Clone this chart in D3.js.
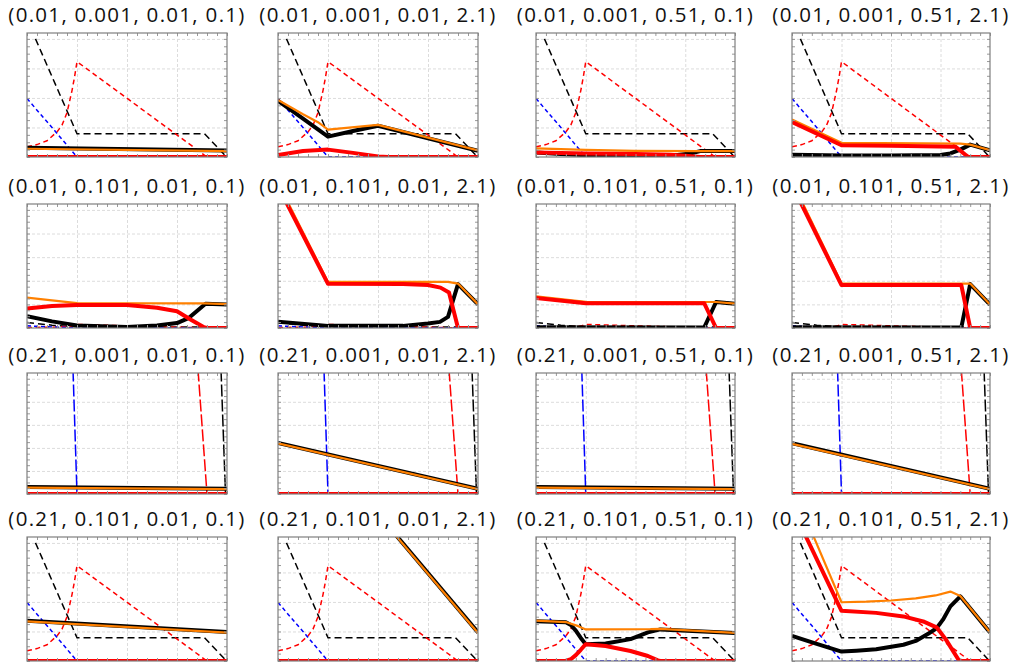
<!DOCTYPE html>
<html><head><meta charset="utf-8">
<script src="https://cdn.jsdelivr.net/npm/d3@7"></script>
<style>body{margin:0;background:#fff}svg{display:block}</style>
</head><body><svg id="c" width="1023" height="669"></svg>
<script>
const titles = [
 "(0.01, 0.001, 0.01, 0.1)","(0.01, 0.001, 0.01, 2.1)","(0.01, 0.001, 0.51, 0.1)","(0.01, 0.001, 0.51, 2.1)",
 "(0.01, 0.101, 0.01, 0.1)","(0.01, 0.101, 0.01, 2.1)","(0.01, 0.101, 0.51, 0.1)","(0.01, 0.101, 0.51, 2.1)",
 "(0.21, 0.001, 0.01, 0.1)","(0.21, 0.001, 0.01, 2.1)","(0.21, 0.001, 0.51, 0.1)","(0.21, 0.001, 0.51, 2.1)",
 "(0.21, 0.101, 0.01, 0.1)","(0.21, 0.101, 0.01, 2.1)","(0.21, 0.101, 0.51, 0.1)","(0.21, 0.101, 0.51, 2.1)"];
const xTicks = [1, 2, 3];
const yTicksWide = [1, 2, 3, 4];
const yTicksTight = [1, 2, 3, 4, 5];
const xMinor = d3.range(0, 4.001, 0.2);
const yMinorWide = d3.range(0, 4.2, 0.25);
const yMinorTight = d3.range(0, 5.25, 0.25);

// dashed reference curves
const dashA_black = [[0.17,4.0],[1.0,0.79],[3.55,0.79],[3.98,0.02]];
const dashA_red = [[0,0.35],[0.2,0.42],[0.4,0.55],[0.6,0.85],[0.7,1.08],[0.8,1.5],[0.9,2.25],[0.95,2.7],[1.0,3.23],[3.6,0],[4,0]];
const dashA_blue = [[0,1.98],[0.5,1.0],[1.0,0],[4,0]];
const dashB_black = [[0,0.23],[0.5,0.12],[1,0.05],[3.55,0.04],[4,0]];
const dashB_red = [[0,0.02],[0.6,0.04],[0.9,0.08],[1,0.15],[3.6,0],[4,0]];
const dashB_blue = [[0,0.09],[1,0],[4,0]];
const dashC_black = [[3.88,5.4],[3.97,0],[4,0]];
const dashC_red = [[3.42,5.4],[3.6,0],[4,0]];
const dashC_blue = [[0.92,5.4],[1.0,0],[4,0]];

// solid curves: thick black, orange, thick red
const blk11 = [[0,0.31],[4,0.22]], org11 = [[0,0.28],[4,0.2]], red11 = [[0,0],[4,0]];
const blk12 = [[0,1.9],[0.5,1.3],[1,0.69],[1.5,0.88],[2,1.06],[4,0.21]];
const org12 = [[0,1.93],[0.5,1.45],[0.8,1.18],[1,0.93],[2,1.09],[4,0.22]];
const red12 = [[0,0.07],[0.5,0.2],[1,0.25],[1.5,0.14],[2,0.02],[2.2,0],[4,0]];
const blk13 = [[0,0.15],[0.5,0.1],[1,0.06],[2,0.04],[2.8,0.06],[3.1,0.12],[3.3,0.2],[4,0.2]];
const org13 = [[0,0.29],[1,0.24],[2,0.21],[3.3,0.2],[4,0.2]];
const red13 = [[0,0.15],[1,0.12],[2,0.1],[2.7,0.08],[3.0,0.04],[3.3,0],[4,0]];
const blk14 = [[0,0.08],[1,0.05],[2,0.05],[3.0,0.07],[3.2,0.12],[3.4,0.25],[3.6,0.42],[4,0.23]];
const org14 = [[0,1.27],[1,0.48],[3.4,0.45],[3.6,0.42],[4,0.23]];
const red14 = [[0,1.18],[1,0.4],[2,0.38],[3.3,0.35],[3.56,0],[4,0]];

const blk21 = [[0,0.5],[0.5,0.28],[1,0.11],[2,0.04],[2.6,0.11],[3.0,0.21],[3.24,0.43],[3.57,1.03],[4,1.0]];
const org21 = [[0,1.29],[1,1.05],[3.57,1.04],[4,1.01]];
const red21 = [[0,0.83],[0.5,0.93],[1,0.97],[2,0.97],[2.6,0.86],[3.0,0.71],[3.27,0.36],[3.54,0.03],[3.6,0],[4,0]];
const blk22 = [[0,0.26],[1,0.09],[2.5,0.09],[3.0,0.19],[3.24,0.26],[3.4,0.47],[3.6,1.86],[4,1.0]];
const org22 = [[0,6.15],[1,1.95],[3.4,1.95],[3.6,1.88],[4,1.0]];
const red22 = [[0,6.0],[1,1.87],[2.5,1.86],[3.0,1.82],[3.25,1.71],[3.42,1.5],[3.6,0],[4,0]];
const blk23 = [[0,0.03],[3.38,0.02],[3.62,1.1],[4,1.03]];
const org23 = [[0,1.34],[1,1.11],[3.62,1.1],[4,1.03]];
const red23 = [[0,1.27],[1,1.05],[3.38,1.05],[3.62,0],[4,0]];
const blk24 = [[0,0.03],[3.42,0.02],[3.6,1.86],[4,0.99]];
const org24 = [[0,6.22],[1,1.89],[3.6,1.88],[4,0.99]];
const red24 = [[0,6.05],[1,1.82],[3.42,1.82],[3.6,0],[4,0]];

const blk31 = [[0,0.3],[4,0.23]], org31 = [[0,0.28],[4,0.21]], red31 = [[0,0],[4,0]];
const blk32 = [[0,2.22],[4,0.23]], org32 = [[0,2.2],[4,0.21]], red32 = [[0,0],[4,0]];
const blk33 = [[0,0.3],[4,0.23]], org33 = [[0,0.28],[4,0.21]], red33 = [[0,0],[4,0]];
const blk34 = [[0,2.2],[4,0.23]], org34 = [[0,2.18],[4,0.21]], red34 = [[0,0],[4,0]];

const blk41 = [[0,1.36],[4,0.98]], org41 = [[0,1.34],[4,0.96]], red41 = [[0,0],[4,0]];
const blk42 = [[0,9.0],[4,0.97]], org42 = [[0,8.98],[4,0.95]], red42 = [[0,0],[4,0]];
const blk43 = [[0,1.35],[0.6,1.31],[0.7,1.22],[0.8,1.03],[0.9,0.78],[1.0,0.57],[1.4,0.59],[1.9,0.74],[2.25,0.97],[2.5,1.07],[4,0.95]];
const org43 = [[0,1.37],[0.6,1.32],[0.85,1.18],[1.0,1.07],[2.3,1.08],[2.5,1.09],[4,0.95]];
const red43 = [[0,0],[0.6,0],[0.7,0.06],[0.8,0.2],[0.9,0.38],[1.0,0.57],[1.4,0.51],[1.9,0.34],[2.25,0.17],[2.45,0.02],[2.5,0],[4,0]];
const blk44 = [[0,0.85],[0.5,0.58],[1,0.32],[1.3,0.35],[1.7,0.4],[2.25,0.55],[2.5,0.68],[2.75,0.92],[2.92,1.11],[3.05,1.4],[3.2,1.85],[3.4,2.19],[4,0.97]];
const org44 = [[0,5.94],[1,1.99],[1.5,2.01],[2,2.05],[2.5,2.12],[2.9,2.22],[3.2,2.35],[3.4,2.2],[4,0.97]];
const red44 = [[0,5.2],[1,1.7],[1.7,1.63],[2.25,1.51],[2.65,1.34],[2.92,1.14],[3.1,0.75],[3.38,0],[4,0]];

const solids = [
 [blk11,org11,red11],[blk12,org12,red12],[blk13,org13,red13],[blk14,org14,red14],
 [blk21,org21,red21],[blk22,org22,red22],[blk23,org23,red23],[blk24,org24,red24],
 [blk31,org31,red31],[blk32,org32,red32],[blk33,org33,red33],[blk34,org34,red34],
 [blk41,org41,red41],[blk42,org42,red42],[blk43,org43,red43],[blk44,org44,red44]];
const dashedByRow = [
 [dashA_black,dashA_red,dashA_blue],
 [dashB_black,dashB_red,dashB_blue],
 [dashC_black,dashC_red,dashC_blue],
 [dashA_black,dashA_red,dashA_blue]];

// layout
const colLeft = [27, 278, 536, 792];
const colWidth = [200, 200, 199, 198];
const rowTop = [33, 204, 373, 537];
const rowHeight = [124, 124, 121, 124];
const rowYMax = [4.2, 5.25, 5.25, 4.2];
const rowYTicks = [yTicksWide, yTicksTight, yTicksTight, yTicksWide];
const rowYMinor = [yMinorWide, yMinorTight, yMinorTight, yMinorWide];

const svg = d3.select("#c");
const dashColors = ["#000000", "#ff0000", "#0000ff"];
const dashPatterns = ["7,4", "5,3.5", "4,3"];

titles.forEach((t, i) => {
  const r = Math.floor(i / 4), c = i % 4;
  const w = colWidth[c], h = rowHeight[r];
  const x = d3.scaleLinear().domain([0, 4]).range([0, w]);
  const y = d3.scaleLinear().domain([0, rowYMax[r]]).range([h, 0]);
  const g = svg.append("g").attr("transform", `translate(${colLeft[c]},${rowTop[r]})`);

  svg.append("text")
    .attr("x", colLeft[c] + w / 2).attr("y", rowTop[r] - 11)
    .attr("text-anchor", "middle")
    .style("font-family", "'Open Sans', sans-serif")
    .style("font-size", "20.5px").style("letter-spacing", "1.3px")
    .attr("fill", "#111").text(t);

  const clipId = "clip" + i;
  g.append("clipPath").attr("id", clipId).append("rect").attr("width", w).attr("height", h);

  g.append("rect").attr("width", w).attr("height", h).attr("fill", "#fff");

  // grid
  const gx = g.append("g").attr("transform", `translate(0,${h})`)
    .call(d3.axisBottom(x).tickValues(xTicks).tickSize(-h).tickFormat(""));
  const gy = g.append("g")
    .call(d3.axisLeft(y).tickValues(rowYTicks[r]).tickSize(-w).tickFormat(""));
  [gx, gy].forEach(a => {
    a.select(".domain").remove();
    a.selectAll(".tick line").attr("stroke", "#dcdcdc").attr("stroke-dasharray", "3,2");
  });

  const line = d3.line().x(d => x(d[0])).y(d => y(d[1]));
  const plot = g.append("g").attr("clip-path", `url(#${clipId})`);

  const dsh = dashedByRow[r];
  const dp = r === 2 ? ["12,3", "12,3", "12,3"] : dashPatterns;
  dsh.forEach((s, k) => {
    plot.append("path").datum(s).attr("d", line).attr("fill", "none")
      .attr("stroke", dashColors[k]).attr("stroke-width", 1.5)
      .attr("stroke-dasharray", dp[k]);
  });

  const [blk, org, red] = solids[i];
  plot.append("path").datum(blk).attr("d", line).attr("fill", "none")
    .attr("stroke", "#000").attr("stroke-width", 4).attr("stroke-linejoin", "round");
  plot.append("path").datum(org).attr("d", line).attr("fill", "none")
    .attr("stroke", "#ff8000").attr("stroke-width", 2.2).attr("stroke-linejoin", "round");
  plot.append("path").datum(red).attr("d", line).attr("fill", "none")
    .attr("stroke", "#ff0000").attr("stroke-width", 4).attr("stroke-linejoin", "round");

  // frame ticks
  const tickStyle = a => { a.select(".domain").remove(); a.selectAll(".tick line").attr("stroke", "#999"); };
  g.append("g").call(d3.axisTop(x).tickValues(xMinor).tickSize(-3).tickFormat("")).call(tickStyle);
  g.append("g").attr("transform", `translate(0,${h})`).call(d3.axisBottom(x).tickValues(xMinor).tickSize(-3).tickFormat("")).call(tickStyle);
  g.append("g").call(d3.axisLeft(y).tickValues(rowYMinor[r]).tickSize(-3).tickFormat("")).call(tickStyle);
  g.append("g").attr("transform", `translate(${w},0)`).call(d3.axisRight(y).tickValues(rowYMinor[r]).tickSize(-3).tickFormat("")).call(tickStyle);

  g.append("rect").attr("width", w).attr("height", h)
    .attr("fill", "none").attr("stroke", "#7f7f7f").attr("stroke-width", 1.2);
});
</script></body></html>
